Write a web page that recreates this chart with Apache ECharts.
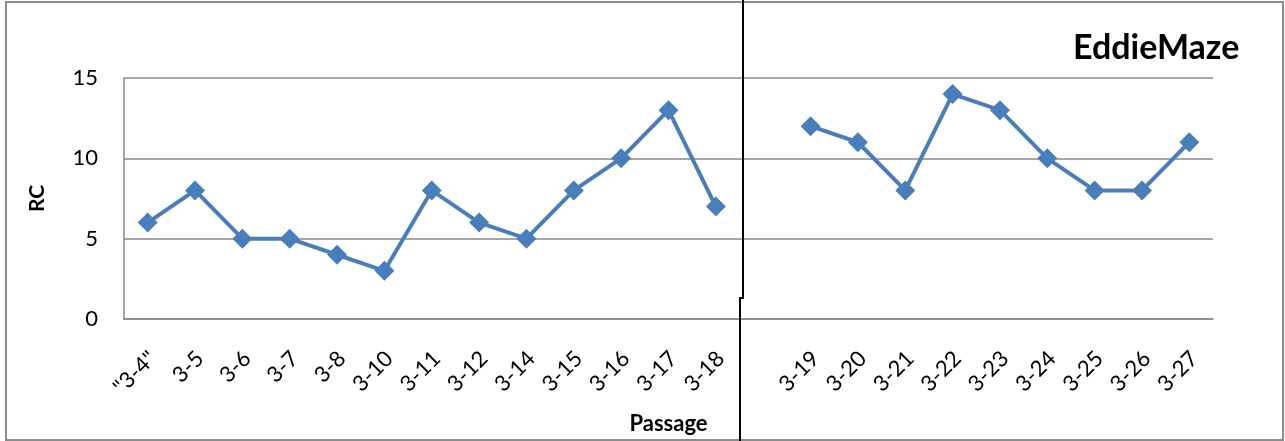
<!DOCTYPE html>
<html>
<head>
<meta charset="utf-8">
<script src="https://cdn.jsdelivr.net/npm/echarts@6/dist/echarts.min.js"></script>
<style>
  html, body { margin: 0; padding: 0; background: #fff; }
  #chart { width: 1285px; height: 441px; }
</style>
</head>
<body>
<div id="chart"></div>
<script>
// Passage labels; the blank slot separates the two runs of passages
const passages = ['"3-4"', '3-5', '3-6', '3-7', '3-8', '3-10', '3-11', '3-12', '3-14', '3-15', '3-16', '3-17', '3-18',
  '', '3-19', '3-20', '3-21', '3-22', '3-23', '3-24', '3-25', '3-26', '3-27'];
// RC value per passage (null = no value for the separator slot)
const rcValues = [6, 8, 5, 5, 4, 3, 8, 6, 5, 8, 10, 13, 7,
  null, 12, 11, 8, 14, 13, 10, 8, 8, 11];
const yTicks = { min: 0, max: 15, step: 5 };

const FONT = 'Lato, "Open Sans", sans-serif';
const chart = echarts.init(document.getElementById('chart'));

chart.setOption({
  animation: false,
  backgroundColor: '#fff',
  grid: { left: 124, right: 72, top: 78, bottom: 122, outerBoundsMode: 'none' },
  xAxis: {
    type: 'category',
    data: passages,
    boundaryGap: true,
    name: 'Passage',
    nameLocation: 'middle',
    nameGap: 94,
    nameTextStyle: { fontFamily: FONT, fontSize: 22, fontWeight: 'bold', color: '#000' },
    axisLine: { show: true, lineStyle: { color: '#888', width: 1.5 } },
    axisTick: { show: false },
    axisLabel: {
      interval: 0, rotate: 45, margin: 41,
      padding: [14, -7, 0, 0],
      fontFamily: FONT, fontSize: 22, color: '#000'
    },
    splitLine: { show: false }
  },
  yAxis: {
    type: 'value',
    min: yTicks.min, max: yTicks.max, interval: yTicks.step,
    name: 'RC',
    nameLocation: 'middle',
    nameGap: 76,
    nameRotate: 90,
    nameTextStyle: { fontFamily: FONT, fontSize: 21, fontWeight: 'bold', color: '#000' },
    axisLine: { show: true, lineStyle: { color: '#888', width: 1.5 } },
    axisTick: { show: false },
    axisLabel: { margin: 26, fontFamily: FONT, fontSize: 22, color: '#000' },
    splitLine: { show: true, lineStyle: { color: '#888', width: 1.5 } }
  },
  series: [{
    type: 'line',
    data: rcValues,
    connectNulls: false,
    symbol: 'diamond',
    symbolSize: 20,
    lineStyle: { color: '#4a7ebb', width: 4 },
    itemStyle: { color: '#4a7ebb' }
  }],
  graphic: [
    {
      type: 'rect',
      shape: { x: 6, y: 2, width: 1277, height: 438 },
      style: { fill: 'none', stroke: '#8c8c8c', lineWidth: 2 },
      silent: true
    },
    {
      type: 'polyline',
      shape: { points: [[743, 0], [743, 298], [740, 298], [740, 441]] },
      style: { fill: 'none', stroke: '#000', lineWidth: 2 },
      z: 100,
      silent: true
    },
    {
      type: 'text',
      x: 1073,
      y: 48,
      style: {
        text: 'EddieMaze', fontFamily: FONT, fontSize: 34, fontWeight: 'bold', fill: '#000',
        align: 'left', verticalAlign: 'middle'
      },
      silent: true
    }
  ]
});
</script>
</body>
</html>
